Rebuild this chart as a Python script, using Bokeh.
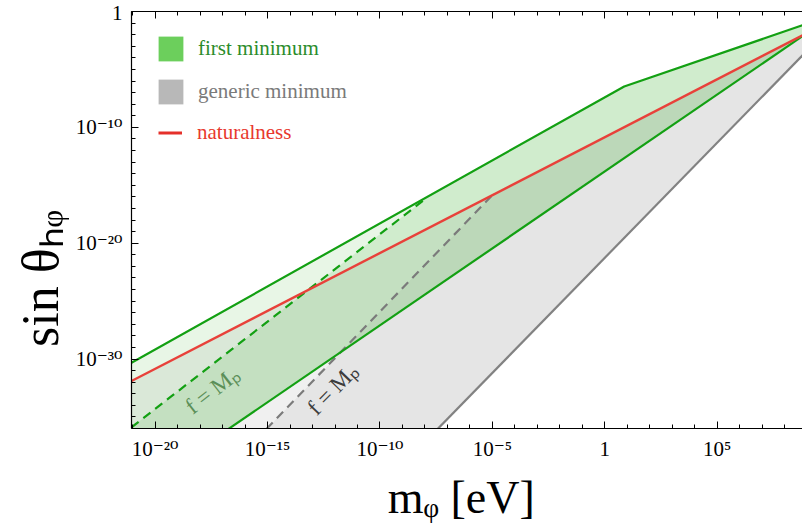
import numpy as np
from bokeh.plotting import figure
from bokeh.models import (Range1d, FixedTicker, CustomJSTickFormatter, LogAxis,
                          Legend, LegendItem, Label)
from bokeh.embed import file_html
from bokeh.resources import INLINE

# ---- data (log10 values) ----
# x: log10(m_phi / eV), y: log10(sin theta_h_phi)
upper_logm = [-21.05, 0.86, 9.0]          # first minimum, upper edge
upper_logs = [-30.32, -6.47, -1.05]
lower_logm = [-21.05, 9.0]                # first minimum, lower edge
lower_logs = [-41.77, -1.85]
natural_logm = [-21.05, 9.0]              # naturalness
natural_logs = [-31.9, -1.85]
generic_logm = [-7.44, 9.0]               # generic minimum, lower edge
generic_logs = [-36.05, -3.37]
fmp_first_logm = [-21.05, -7.9]           # f = M_P (first minimum)
fmp_first_logs = [-35.9, -16.05]
fmp_generic_logm = [-15.05, -5.0]         # f = M_P (generic minimum)
fmp_generic_logs = [-36.05, -15.85]

x_major_exp = [-20, -15, -10, -5, 0, 5]
x_minor_exp = list(range(-21, 10))
y_major_exp = [0, -10, -20, -30]
y_minor_exp = list(range(-36, 1))

label_first_pos = (-17.45, -32.7)
label_generic_pos = (-12.1, -32.6)

def p10(a):
    return list(10.0 ** np.asarray(a, dtype=float))

FONT = "Liberation Serif"
TICKFONT = "'Liberation Serif', 'DejaVu Serif'"
GREEN = "#13a013"
RED = "#e8413a"
GRAY = "#828282"
GFILL = "#33ac26"

p = figure(width=802, height=525, x_axis_type="log", y_axis_type="log",
           x_range=Range1d(10 ** -21.05, 10 ** 8.79), y_range=Range1d(1e-36, 1.0),
           output_backend="svg", toolbar_location=None,
           min_border_left=131, min_border_right=0, min_border_top=11,
           min_border_bottom=97, outline_line_color=None)
p.xgrid.grid_line_color = None
p.ygrid.grid_line_color = None
p.background_fill_color = "white"
p.border_fill_color = "white"

fmt = CustomJSTickFormatter(code="""
const e = Math.round(Math.log10(tick));
if (e === 0) return "1";
const sup = {"-": "\u207b", "0": "\u2070", "1": "\u00b9", "2": "\u00b2", "3": "\u00b3",
             "4": "\u2074", "5": "\u2075", "6": "\u2076", "7": "\u2077", "8": "\u2078", "9": "\u2079"};
return "10" + String(e).split("").map(c => sup[c]).join("");
""")
blank = CustomJSTickFormatter(code="return '';")

xt = FixedTicker(ticks=p10(x_major_exp), minor_ticks=p10(x_minor_exp))
yt = FixedTicker(ticks=p10(y_major_exp), minor_ticks=p10(y_minor_exp))

def style(ax, ticker, formatter):
    ax.ticker = ticker
    ax.formatter = formatter
    ax.axis_line_color = "black"
    ax.axis_line_width = 1.2
    ax.major_tick_in = 7
    ax.major_tick_out = 0
    ax.minor_tick_in = 4
    ax.minor_tick_out = 0
    ax.major_tick_line_color = "black"
    ax.minor_tick_line_color = "black"
    ax.major_label_text_font = TICKFONT
    ax.major_label_text_font_size = "21px"
    ax.major_label_text_color = "black"
    ax.axis_label_text_font = FONT
    ax.axis_label_text_font_style = "normal"
    ax.axis_label_text_color = "black"

style(p.xaxis[0], xt, fmt)
style(p.yaxis[0], yt, fmt)
p.xaxis[0].major_label_standoff = 8
p.yaxis[0].major_label_standoff = 9
p.xaxis[0].axis_label = "m\u1d69  [eV]"
p.xaxis[0].axis_label_text_font_size = "46px"
p.xaxis[0].axis_label_standoff = 8
NB = "\u00a0"
p.yaxis[0].axis_label = "sin \u03b8\u2095\u1d69" + NB * 9
p.yaxis[0].axis_label_text_font_size = "52px"
p.yaxis[0].axis_label_standoff = 4

top = LogAxis()
style(top, FixedTicker(ticks=p10(x_major_exp), minor_ticks=p10(x_minor_exp)), blank)
top.major_label_standoff = 0
top.major_label_text_font_size = "1px"
p.add_layout(top, "above")

# ---- regions ----
gray_light_x = [natural_logm[0], fmp_generic_logm[1], fmp_generic_logm[0], natural_logm[0]]
gray_light_y = [natural_logs[0], fmp_generic_logs[1], fmp_generic_logs[0], fmp_generic_logs[0]]
gray_norm_x = [fmp_generic_logm[1], natural_logm[1], generic_logm[1], generic_logm[0], fmp_generic_logm[0]]
gray_norm_y = [fmp_generic_logs[1], natural_logs[1], generic_logs[1], generic_logs[0], fmp_generic_logs[0]]
green_light_x = [upper_logm[0], fmp_first_logm[1], fmp_first_logm[0]]
green_light_y = [upper_logs[0], fmp_first_logs[1], fmp_first_logs[0]]
green_norm_x = [fmp_first_logm[1], upper_logm[1], upper_logm[2], lower_logm[1], lower_logm[0], fmp_first_logm[0]]
green_norm_y = [fmp_first_logs[1], upper_logs[1], upper_logs[2], lower_logs[1], lower_logs[0], fmp_first_logs[0]]

p.patch(p10(gray_light_x), p10(gray_light_y), fill_color="#f0f0f0", line_color=None)
p.patch(p10(gray_norm_x), p10(gray_norm_y), fill_color="#e5e5e5", line_color=None)
p.patch(p10(green_light_x), p10(green_light_y), fill_color=GFILL, fill_alpha=0.115, line_color=None)
p.patch(p10(green_norm_x), p10(green_norm_y), fill_color=GFILL, fill_alpha=0.23, line_color=None)

# ---- lines ----
p.line(p10(generic_logm), p10(generic_logs), line_color=GRAY, line_width=2.2)
p.line(p10(fmp_generic_logm), p10(fmp_generic_logs), line_color="#7b7b7b", line_width=2.2,
       line_dash="9 6")
p.line(p10(fmp_first_logm), p10(fmp_first_logs), line_color=GREEN, line_width=2.2,
       line_dash="9 6")
p.line(p10(lower_logm), p10(lower_logs), line_color=GREEN, line_width=2.2)
p.line(p10(upper_logm), p10(upper_logs), line_color=GREEN, line_width=2.2)
p.line(p10(natural_logm), p10(natural_logs), line_color=RED, line_width=2.4)

# ---- labels along dashed lines ----
p.add_layout(Label(x=10 ** label_first_pos[0], y=10 ** label_first_pos[1], text="f = M\u209a",
                   angle=0.66, text_align="center", text_baseline="middle",
                   text_font=FONT, text_font_size="23px", text_color="#5b8f58"))
p.add_layout(Label(x=10 ** label_generic_pos[0], y=10 ** label_generic_pos[1], text="f = M\u209a",
                   angle=0.80, text_align="center", text_baseline="middle",
                   text_font=FONT, text_font_size="23px", text_color="#3c3c3c"))

# ---- legend (three single-item legends, each with its own text colour) ----
nan = [float("nan")]
sq_green = p.patch(x=nan, y=nan, fill_color="#6ccf5c", line_color=None)
sq_gray = p.patch(x=nan, y=nan, fill_color="#b8b8b8", line_color=None)
ln_red = p.line(x=nan, y=nan, line_color="#e5302a", line_width=3)

def add_leg(renderer, text, color, loc, gw, gh, standoff):
    lg = Legend(items=[LegendItem(label=text, renderers=[renderer])], location=loc,
                padding=0, margin=0, border_line_color=None, background_fill_alpha=0,
                glyph_width=gw, glyph_height=gh, label_standoff=standoff,
                label_text_font=FONT, label_text_font_size="21px", label_text_color=color,
                label_height=gh)
    p.add_layout(lg)

add_leg(sq_green, "first minimum", "#2b8c2b", (24, 364), 31, 31, 12)
add_leg(sq_gray, "generic minimum", "#7a7a7a", (24, 321), 31, 31, 12)
add_leg(ln_red, "naturalness", "#e8382d", (27, 280), 24, 31, 15)

open("out.html", "w").write(file_html(p, INLINE))
